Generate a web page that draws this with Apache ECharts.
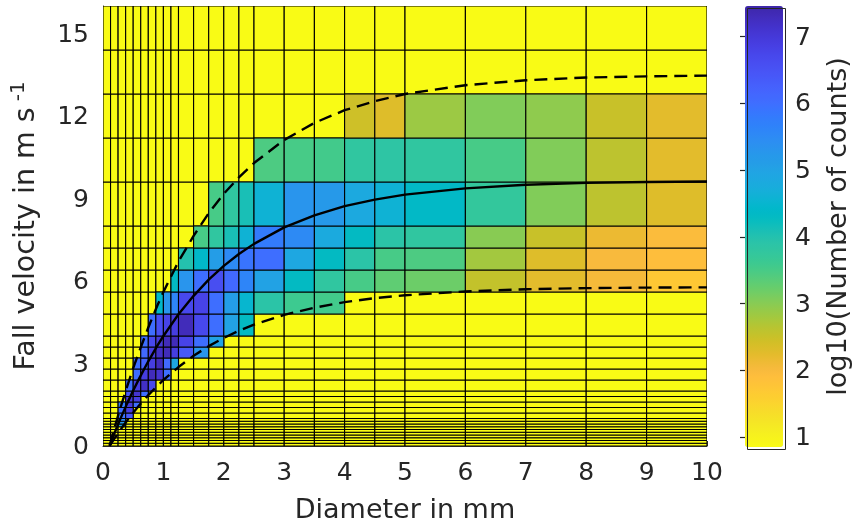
<!DOCTYPE html>
<html>
<head>
<meta charset="utf-8">
<script src="https://cdn.jsdelivr.net/npm/echarts@6/dist/echarts.min.js"></script>
<style>
  html, body { margin: 0; padding: 0; background: #ffffff; }
  #chart { width: 854px; height: 526px; }
</style>
</head>
<body>
<div id="chart"></div>
<script>
// Disdrometer size classes (mm) and fall-velocity classes (m/s)
const diameterEdges = [0, 0.125, 0.25, 0.375, 0.5, 0.625, 0.75, 0.875, 1, 1.125, 1.25,
  1.5, 1.75, 2, 2.25, 2.5, 3, 3.5, 4, 4.5, 5, 6, 7, 8, 9, 10];
const velocityEdges = [0, 0.1, 0.2, 0.3, 0.4, 0.5, 0.6, 0.7, 0.8, 0.9, 1.0,
  1.2, 1.4, 1.6, 1.8, 2.0, 2.4, 2.8, 3.2, 3.6, 4.0, 4.8, 5.6, 6.4, 7.2, 8.0,
  9.6, 11.2, 12.8, 14.4, 16.0];

// log10(counts) per velocity class: [velocity class, first diameter class, values...]
const countRows = [
  [7, 2, [4.9]],
  [8, 2, [5.2]],
  [9, 2, [5.5]],
  [10, 2, [5.9, 6.4]],
  [11, 2, [6.0, 6.9]],
  [12, 2, [5.8, 7.0, 6.0]],
  [13, 3, [7.0, 6.9]],
  [14, 3, [6.4, 7.1, 6.0]],
  [15, 3, [6.0, 6.9, 7.2, 6.7]],
  [16, 4, [6.0, 6.9, 7.3, 7.1, 6.0]],
  [17, 4, [6.0, 6.2, 6.9, 7.3, 6.1, 4.9]],
  [18, 5, [6.1, 6.9, 7.2, 7.3, 6.9, 6.4, 5.3]],
  [19, 5, [6.0, 6.7, 7.0, 7.3, 7.3, 6.8, 6.0, 5.0]],
  [20, 6, [6.0, 6.6, 6.8, 6.9, 7.3, 6.7, 6.0, 5.0, 4.3]],
  [21, 7, [4.4, 5.3, 5.6, 6.7, 6.8, 6.0, 5.1, 4.5, 3.9, 3.6, 3.55]],
  [22, 9, [4.3, 5.3, 6.0, 6.6, 6.1, 5.6, 5.0, 4.3, 3.8, 3.5, 3.3, 3.2, 2.55, 2.25, 2.05, 1.7]],
  [23, 10, [4.0, 4.4, 5.1, 5.5, 5.9, 6.0, 4.9, 4.3, 3.9, 3.5, 3.45, 2.8, 2.3, 2.0, 1.9]],
  [24, 11, [3.5, 3.8, 4.1, 4.6, 5.8, 5.5, 4.8, 4.3, 3.9, 3.8, 3.0, 2.5, 2.15, 1.95]],
  [25, 12, [3.5, 3.8, 4.1, 4.6, 5.3, 5.2, 4.85, 4.6, 4.35, 3.75, 3.05, 2.6, 2.3]],
  [26, 15, [3.45, 3.5, 3.55, 3.8, 3.85, 3.8, 3.5, 3.05, 2.6, 2.25]],
  [27, 18, [2.45, 2.3, 2.85, 3.05, 2.95, 2.5, 2.25]]
];

// Terminal fall-velocity relation and its +/-40 % band
const curveDiameters = [0.11, 0.15, 0.2, 0.25, 0.3, 0.4, 0.5, 0.6, 0.75, 0.9, 1.0, 1.25,
  1.5, 1.75, 2.0, 2.25, 2.5, 3.0, 3.5, 4.0, 4.5, 5.0, 6.0, 7.0, 8.0, 9.0, 10.0];
const velocityFit = [0.01, 0.24, 0.52, 0.79, 1.05, 1.55, 2.02, 2.46, 3.08, 3.65, 4.00, 4.79,
  5.46, 6.05, 6.55, 6.98, 7.35, 7.95, 8.39, 8.72, 8.96, 9.14, 9.37, 9.50, 9.57, 9.60, 9.62];
const velocityUpper = [0.01, 0.34, 0.73, 1.11, 1.47, 2.17, 2.83, 3.44, 4.31, 5.11, 5.60, 6.71,
  7.64, 8.47, 9.17, 9.77, 10.29, 11.13, 11.75, 12.21, 12.54, 12.80, 13.12, 13.30, 13.40, 13.44, 13.47];
const velocityLower = [0.01, 0.14, 0.31, 0.47, 0.63, 0.93, 1.21, 1.48, 1.85, 2.19, 2.40, 2.87,
  3.28, 3.63, 3.93, 4.19, 4.41, 4.77, 5.03, 5.23, 5.38, 5.48, 5.62, 5.70, 5.74, 5.76, 5.77];

const colorRange = [0.85, 7.46];

// parula(64)
const parula = [
  [0.2422,0.1504,0.6603],[0.2504,0.1650,0.7076],[0.2578,0.1818,0.7511],[0.2647,0.1978,0.7952],
  [0.2706,0.2147,0.8364],[0.2751,0.2342,0.8710],[0.2783,0.2559,0.8991],[0.2803,0.2782,0.9221],
  [0.2813,0.3006,0.9414],[0.2810,0.3228,0.9579],[0.2795,0.3447,0.9717],[0.2760,0.3667,0.9829],
  [0.2699,0.3892,0.9906],[0.2602,0.4123,0.9952],[0.2440,0.4358,0.9988],[0.2206,0.4603,0.9973],
  [0.1963,0.4847,0.9892],[0.1834,0.5074,0.9798],[0.1786,0.5289,0.9682],[0.1764,0.5499,0.9520],
  [0.1687,0.5703,0.9359],[0.1540,0.5902,0.9218],[0.1460,0.6091,0.9079],[0.1380,0.6276,0.8973],
  [0.1248,0.6459,0.8883],[0.1113,0.6630,0.8763],[0.0952,0.6798,0.8598],[0.0689,0.6948,0.8394],
  [0.0297,0.7082,0.8163],[0.0036,0.7203,0.7917],[0.0067,0.7312,0.7660],[0.0433,0.7411,0.7394],
  [0.0964,0.7500,0.7120],[0.1408,0.7584,0.6842],[0.1717,0.7670,0.6554],[0.1938,0.7758,0.6251],
  [0.2161,0.7843,0.5923],[0.2470,0.7918,0.5567],[0.2906,0.7973,0.5188],[0.3406,0.8008,0.4789],
  [0.3909,0.8029,0.4354],[0.4456,0.8024,0.3909],[0.5044,0.7993,0.3480],[0.5616,0.7942,0.3045],
  [0.6174,0.7876,0.2612],[0.6720,0.7793,0.2227],[0.7242,0.7698,0.1910],[0.7738,0.7598,0.1646],
  [0.8203,0.7498,0.1535],[0.8634,0.7406,0.1596],[0.9035,0.7330,0.1774],[0.9393,0.7288,0.2100],
  [0.9728,0.7298,0.2394],[0.9956,0.7434,0.2371],[0.9970,0.7659,0.2199],[0.9952,0.7893,0.2028],
  [0.9892,0.8136,0.1885],[0.9786,0.8386,0.1766],[0.9676,0.8639,0.1643],[0.9610,0.8890,0.1537],
  [0.9597,0.9135,0.1423],[0.9628,0.9373,0.1265],[0.9691,0.9606,0.1064],[0.9769,0.9839,0.0805]
];
const toRgb = c => 'rgb(' + c.map(x => Math.round(x * 255)).join(',') + ')';
// low values yellow, high values dark blue
const colorScale = parula.slice().reverse().map(toRgb);
const emptyColor = colorScale[0];

// Build the cell lists from the class edges
const filled = new Map();
countRows.forEach(([iv, id0, vals]) => {
  vals.forEach((val, k) => filled.set(iv * 100 + id0 + k, val));
});
const emptyCells = [];
const countCells = [];
for (let iv = 0; iv < velocityEdges.length - 1; iv++) {
  for (let id = 0; id < diameterEdges.length - 1; id++) {
    const box = [diameterEdges[id], diameterEdges[id + 1], velocityEdges[iv], velocityEdges[iv + 1]];
    const key = iv * 100 + id;
    if (filled.has(key)) countCells.push(box.concat(filled.get(key)));
    else emptyCells.push(box);
  }
}

function cellShape(api) {
  const a = api.coord([api.value(0), api.value(3)]);
  const b = api.coord([api.value(1), api.value(2)]);
  return { x: a[0], y: a[1], width: b[0] - a[0], height: b[1] - a[1] };
}

const FONT = 'DejaVu Sans';
const INK = '#262626';
const tickLabelRich = { n: { fontFamily: FONT, fontSize: 25, color: INK, padding: [3, 0, 0, 0] } };

const curveSeries = (values, dashed) => ({
  type: 'line', xAxisIndex: 0, yAxisIndex: 0, showSymbol: false, silent: true, z: 5,
  data: curveDiameters.map((d, i) => [d, values[i]]),
  lineStyle: { color: '#000', width: 2.4, type: dashed ? [13, 7] : 'solid' }
});

const chart = echarts.init(document.getElementById('chart'), null, { renderer: 'canvas' });
chart.setOption({
  animation: false,
  backgroundColor: '#ffffff',
  textStyle: { fontFamily: FONT, color: INK },
  grid: [
    { left: 103, right: 147, top: 6, bottom: 80, show: false, outerBoundsMode: 'none' },
    { left: 745, top: 6, width: 38, height: 441, show: false, outerBoundsMode: 'none' }
  ],
  xAxis: [
    {
      type: 'value', gridIndex: 0, min: 0, max: 10, interval: 1,
      name: 'Diameter in mm', nameLocation: 'middle', nameGap: 51, nameMoveOverlap: false,
      nameTextStyle: { fontFamily: FONT, fontSize: 27, color: INK },
      axisLine: { show: true, lineStyle: { color: INK, width: 1 } },
      axisTick: { show: true, inside: true, length: 5, lineStyle: { color: INK } },
      axisLabel: { fontFamily: FONT, fontSize: 25, color: INK, margin: 15 },
      splitLine: { show: false }
    },
    { type: 'value', gridIndex: 1, min: 0, max: 1, show: false }
  ],
  yAxis: [
    {
      type: 'value', gridIndex: 0, min: 0, max: 16, interval: 3,
      name: '{t|Fall velocity in m s}{s|-1}', nameLocation: 'middle', nameGap: 58,
      nameRotate: 90, nameMoveOverlap: false,
      nameTextStyle: {
        rich: {
          t: { fontFamily: FONT, fontSize: 28.5, color: INK, lineHeight: 36 },
          s: { fontFamily: FONT, fontSize: 20, color: INK, verticalAlign: 'top', lineHeight: 36,
            padding: [0, 0, 0, 6] }
        }
      },
      axisLine: { show: true, lineStyle: { color: INK, width: 1 } },
      axisTick: { show: true, inside: true, length: 5, lineStyle: { color: INK } },
      axisLabel: { margin: 14, showMaxLabel: false,
        formatter: v => '{n|' + v + '}', rich: tickLabelRich },
      splitLine: { show: false }
    },
    {
      type: 'value', gridIndex: 1, min: colorRange[0], max: colorRange[1], position: 'right',
      z: 10,
      name: 'log10(Number of counts)', nameLocation: 'middle', nameRotate: 90, nameGap: 42,
      nameMoveOverlap: false,
      nameTextStyle: { fontFamily: FONT, fontSize: 27, color: INK },
      axisLine: { show: false },
      axisTick: { show: true, inside: true, length: 5, lineStyle: { color: INK, width: 1.2 } },
      axisLabel: { margin: 12, showMinLabel: false, showMaxLabel: false,
        formatter: v => '{n|' + v + '}', rich: tickLabelRich },
      splitLine: { show: false }
    }
  ],
  visualMap: {
    type: 'continuous', seriesIndex: 1, dimension: 4,
    min: colorRange[0], max: colorRange[1],
    left: 745, top: 6, itemWidth: 38, itemHeight: 441, padding: 0,
    calculable: false, hoverLink: false, text: null, showLabel: false,
    inRange: { color: colorScale }
  },
  graphic: [{
    type: 'rect', left: 745, top: 6, z: 100, silent: true,
    shape: { width: 38, height: 441 },
    style: { fill: 'none', stroke: INK, lineWidth: 1 }
  }],
  series: [
    {
      type: 'custom', xAxisIndex: 0, yAxisIndex: 0, clip: true, silent: true,
      data: emptyCells,
      renderItem: (params, api) => ({
        type: 'rect', shape: cellShape(api),
        style: { fill: emptyColor, stroke: '#000', lineWidth: 1.1 }
      })
    },
    {
      type: 'custom', xAxisIndex: 0, yAxisIndex: 0, clip: true, silent: true,
      data: countCells,
      renderItem: (params, api) => ({
        type: 'rect', shape: cellShape(api),
        style: { fill: api.visual('color'), stroke: '#000', lineWidth: 1.1 }
      })
    },
    curveSeries(velocityFit, false),
    curveSeries(velocityUpper, true),
    curveSeries(velocityLower, true)
  ]
});
</script>
</body>
</html>
